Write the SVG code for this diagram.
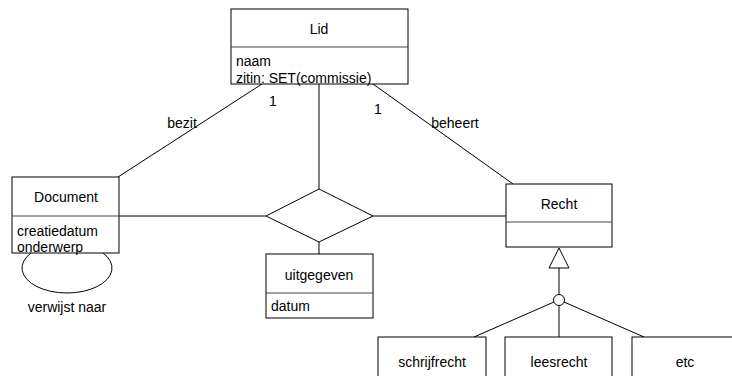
<svg xmlns="http://www.w3.org/2000/svg" width="732" height="376" viewBox="0 0 732 376">
<style>
.box{fill:#fff;stroke:#000;stroke-width:1}
.div{stroke:#444;stroke-width:1}
.ln{stroke:#000;stroke-width:1;fill:none}
text{font-family:"Liberation Sans",Arial,sans-serif;font-size:14px;fill:#000}
.c{text-anchor:middle}
</style>
<rect width="732" height="376" fill="#fff"/>
<g id="connectors">
<line class="ln" x1="262" y1="84" x2="118" y2="177"/>
<line class="ln" x1="373" y1="84" x2="513" y2="184"/>
<line class="ln" x1="319" y1="84" x2="319" y2="189"/>
<line class="ln" x1="118" y1="216" x2="266" y2="216"/>
<line class="ln" x1="373" y1="216" x2="506" y2="216"/>
<line class="ln" x1="319" y1="242" x2="319" y2="254"/>
<path class="ln" d="M31,253 A45,25 0 1 0 103,253"/>
<polygon class="box" points="559,248 569,268 549,268"/>
<line class="ln" x1="559" y1="268" x2="559" y2="295"/>
<circle class="box" cx="559" cy="300" r="5.5"/>
<line class="ln" x1="554" y1="302" x2="474" y2="337"/>
<line class="ln" x1="559" y1="305.5" x2="559" y2="337"/>
<line class="ln" x1="564" y1="302" x2="644" y2="337"/>
<text x="273" y="106" class="c">1</text>
<text x="378" y="114" class="c">1</text>
<text x="182" y="128" class="c">bezit</text>
<text x="455" y="128" class="c">beheert</text>
<text x="67" y="312" class="c">verwijst naar</text>
</g>
<g id="lid">
<rect class="box" x="231" y="9" width="177" height="75"/>
<line class="div" x1="231" y1="47" x2="408" y2="47"/>
<text x="319" y="34" class="c">Lid</text>
<text x="236" y="66">naam</text>
<text x="236" y="83">zitin: SET(commissie)</text>
</g>
<g id="document">
<rect class="box" x="12" y="177" width="107" height="76"/>
<line class="div" x1="12" y1="216" x2="119" y2="216"/>
<text x="66" y="202" class="c">Document</text>
<text x="17" y="236">creatiedatum</text>
<text x="17" y="252">onderwerp</text>
</g>
<g id="uitgegeven-rel">
<polygon class="box" points="319,189 373,216 319,242 266,216"/>
</g>
<g id="uitgegeven">
<rect class="box" x="266" y="254" width="107" height="64"/>
<line class="div" x1="266" y1="293" x2="373" y2="293"/>
<text x="319" y="280" class="c">uitgegeven</text>
<text x="271" y="311">datum</text>
</g>
<g id="recht">
<rect class="box" x="506" y="184" width="106" height="63"/>
<line class="div" x1="506" y1="222" x2="612" y2="222"/>
<text x="559" y="209" class="c">Recht</text>
</g>
<g id="schrijfrecht">
<rect class="box" x="378" y="337" width="108" height="42"/>
<text x="432" y="367" class="c">schrijfrecht</text>
</g>
<g id="leesrecht">
<rect class="box" x="505" y="337" width="107" height="42"/>
<text x="559" y="367" class="c">leesrecht</text>
</g>
<g id="etc">
<rect class="box" x="632" y="337" width="107" height="42"/>
<text x="685" y="367" class="c">etc</text>
</g>
</svg>
